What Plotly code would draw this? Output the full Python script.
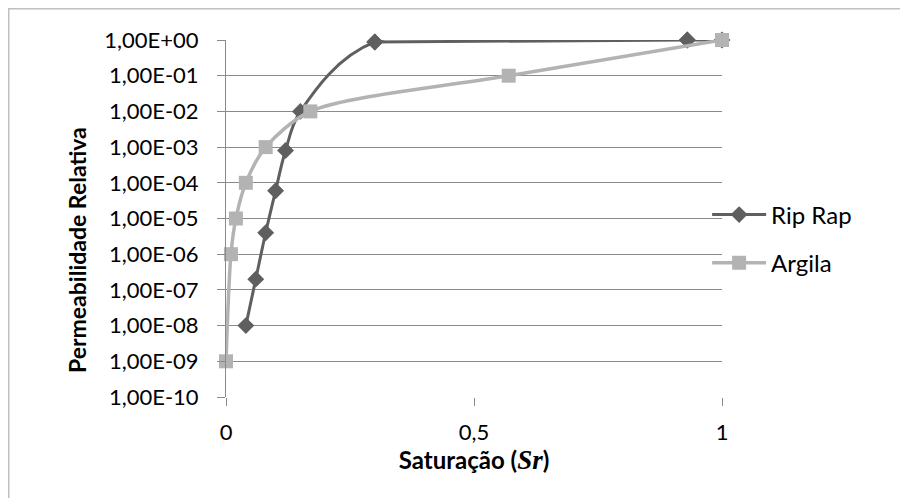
import plotly.graph_objects as go

# Data
riprap_x = [0.04, 0.06, 0.08, 0.10, 0.12, 0.15, 0.30, 0.93, 1.0]
riprap_y = [1e-8, 2e-7, 4e-6, 6e-5, 8e-4, 1e-2, 0.88, 1.0, 1.0]
argila_x = [0.0, 0.01, 0.02, 0.04, 0.08, 0.17, 0.57, 1.0]
argila_y = [1e-9, 1e-6, 1e-5, 1e-4, 1e-3, 1e-2, 1e-1, 1.0]

y_tickvals = [1e0, 1e-1, 1e-2, 1e-3, 1e-4, 1e-5, 1e-6, 1e-7, 1e-8, 1e-9, 1e-10]
y_ticktext = ["1,00E+00", "1,00E-01", "1,00E-02", "1,00E-03", "1,00E-04", "1,00E-05",
              "1,00E-06", "1,00E-07", "1,00E-08", "1,00E-09", "1,00E-10"]
x_tickvals = [0, 0.5, 1]
x_ticktext = ["0", "0,5", "1"]

FONT = "Lato"
DARK = "#5f5f5f"
LIGHT = "#b3b3b3"
GRID = "#8a8a8a"

L, T, W, H = 218, 32, 496, 357
R = 908 - L - W
B = 498 - T - H

def px2paper_x(px):
    return (px - L) / W

def px2paper_y(py):
    return (T + H - py) / H

SPLIT = 6  # index where the smoothed rise meets the plateau

fig = go.Figure()
# smoothed rising part (runs to the next plateau point so the curve arrives flat)
fig.add_trace(go.Scatter(
    x=riprap_x[:SPLIT + 2], y=riprap_y[:SPLIT + 2], name="Rip Rap",
    mode="lines+markers", legendgroup="a",
    line=dict(color=DARK, width=3, shape="spline", smoothing=1.0),
    marker=dict(symbol="diamond", size=13, color=DARK),
    cliponaxis=False,
))
# plateau part
fig.add_trace(go.Scatter(
    x=riprap_x[SPLIT:], y=riprap_y[SPLIT:], name="Rip Rap",
    mode="lines+markers", legendgroup="a", showlegend=False,
    line=dict(color=DARK, width=3, shape="spline", smoothing=0.3),
    marker=dict(symbol="diamond", size=13, color=DARK),
    cliponaxis=False,
))
fig.add_trace(go.Scatter(
    x=argila_x, y=argila_y, name="Argila", mode="lines+markers", legendgroup="b",
    line=dict(color=LIGHT, width=3.5, shape="spline", smoothing=0.8),
    marker=dict(symbol="square", size=14, color=LIGHT),
    cliponaxis=False,
))

fig.update_layout(
    width=908, height=498,
    margin=dict(l=L, r=R, t=T, b=B),
    paper_bgcolor="white", plot_bgcolor="white",
    font=dict(family=FONT, size=22, color="black"),
    showlegend=True,
    legend=dict(x=0.97, y=px2paper_y(231), xanchor="left", yanchor="middle",
                bgcolor="rgba(0,0,0,0)", font=dict(family=FONT, size=24),
                tracegroupgap=14, itemwidth=54),
    xaxis=dict(
        range=[0, 1], tickvals=x_tickvals, ticktext=x_ticktext,
        showgrid=False, zeroline=False, showline=False,
        ticks="outside", ticklen=8, tickcolor=GRID, tickwidth=1,
        tickfont=dict(family=FONT, size=22),
        ticklabelstandoff=8,
        title=dict(text="<b>Saturação (<span style='font-family:Liberation Serif;font-size:27px'><i>Sr</i></span>)</b>",
                   font=dict(family=FONT, size=24), standoff=3),
    ),
    yaxis=dict(
        type="log", range=[-10, 0], tickvals=y_tickvals, ticktext=y_ticktext,
        showgrid=True, gridcolor=GRID, gridwidth=1,
        showline=True, linecolor=GRID, linewidth=1,
        zeroline=False,
        ticks="outside", ticklen=8, tickcolor=GRID, tickwidth=1,
        tickfont=dict(family=FONT, size=22),
        ticklabelstandoff=14,
    ),
    annotations=[dict(
        text="<b>Permeabilidade Relativa</b>", textangle=-90,
        xref="paper", yref="paper", x=px2paper_x(69), y=px2paper_y(242),
        xanchor="center", yanchor="middle", showarrow=False,
        font=dict(family=FONT, size=23, color="black"),
    )],
    shapes=[dict(type="rect", xref="paper", yref="paper",
                 x0=px2paper_x(0.75), x1=px2paper_x(920),
                 y0=px2paper_y(510), y1=px2paper_y(0.75),
                 line=dict(color="#c0c0c0", width=1.5), fillcolor="rgba(0,0,0,0)",
                 layer="below")],
)

fig.write_html("out.html")
